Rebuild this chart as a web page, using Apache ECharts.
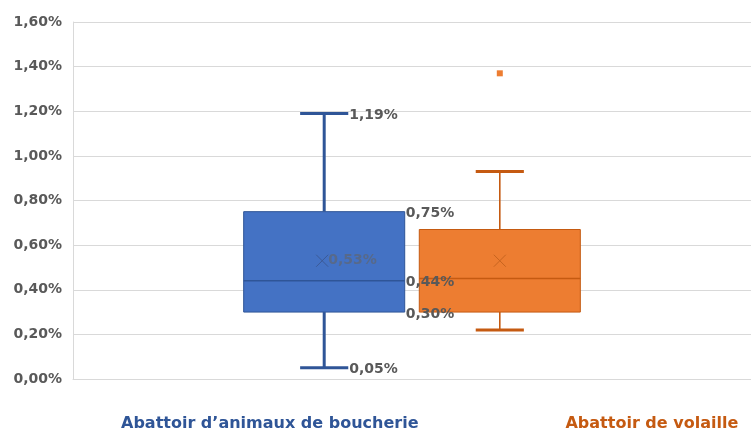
<!DOCTYPE html>
<html>
<head>
<meta charset="utf-8">
<script src="https://cdn.jsdelivr.net/npm/echarts@6/dist/echarts.min.js"></script>
<style>html,body{margin:0;padding:0;background:#fff;}#c{width:751px;height:434px;}</style>
</head>
<body>
<div id="c"></div>
<script>
// ---- data (values in %) ----
const categories = [''];
const seriesNames = ["Abattoir d’animaux de boucherie", "Abattoir de volaille"];
const whiskerLow  = [0.05, 0.22];
const q1          = [0.30, 0.30];
const median      = [0.44, 0.45];
const q3          = [0.75, 0.67];
const whiskerHigh = [1.19, 0.93];
const means       = [0.53, 0.53];
const outliers    = [[], [1.37]];
const yMin = 0, yMax = 1.6, yStep = 0.2;

const fmt = v => v.toFixed(2).replace('.', ',') + '%';

const colors = [
  {fill: '#4472c4', dark: '#2f5597', whisker: 3, cap: 3, mean: '#3b5a97', text: '#2f5597'},
  {fill: '#ed7d31', dark: '#c55a11', whisker: 1.6, cap: 3, mean: '#c7641f', text: '#c55a11'}
];
const sides = [-1, 1];
const showLabels = [true, false];
const FONT = 'DejaVu Sans';

function boxRender(i) {
  const c = colors[i];
  return function (params, api) {
    const band = api.size([1, 0])[0];
    const cx = api.coord([api.value(0), 0])[0] + sides[i] * band * 0.1295;
    const Y = v => api.coord([0, v])[1];
    const low = api.value(1), a = api.value(2), m = api.value(3), b = api.value(4), high = api.value(5), mean = api.value(6);
    const bw = band * 0.2375, cw = band * 0.071;
    const ch = [];
    const line = (x1, y1, x2, y2, w, col) => ({type: 'line', shape: {x1, y1, x2, y2}, style: {stroke: col, lineWidth: w}});
    ch.push(line(cx, Y(b), cx, Y(high), c.whisker, c.dark));
    ch.push(line(cx, Y(a), cx, Y(low), c.whisker, c.dark));
    ch.push(line(cx - cw / 2, Y(high), cx + cw / 2, Y(high), c.cap, c.dark));
    ch.push(line(cx - cw / 2, Y(low), cx + cw / 2, Y(low), c.cap, c.dark));
    ch.push({type: 'rect', shape: {x: cx - bw / 2, y: Y(b), width: bw, height: Y(a) - Y(b)},
             style: {fill: c.fill, stroke: c.dark, lineWidth: 1}});
    ch.push(line(cx - bw / 2, Y(m), cx + bw / 2, Y(m), 1.5, c.dark));
    const mx = i === 0 ? cx - 2 : cx, my = Y(mean), s = 6;
    ch.push(line(mx - s, my - s, mx + s, my + s, 1, c.mean));
    ch.push(line(mx - s, my + s, mx + s, my - s, 1, c.mean));
    if (showLabels[i]) {
      const lab = (x, y, v, col) => ({type: 'text', x, y: y + 2,
        style: {text: fmt(v), fill: col, font: 'bold 14px "' + FONT + '"', verticalAlign: 'middle', align: 'left'}});
      ch.push(lab(cx + cw / 2 + 1, Y(high), high, '#595959'));
      ch.push(lab(cx + cw / 2 + 1, Y(low), low, '#595959'));
      ch.push(lab(cx + bw / 2 + 1, Y(b), b, '#595959'));
      ch.push(lab(cx + bw / 2 + 1, Y(m), m, '#595959'));
      ch.push(lab(cx + bw / 2 + 1, Y(a), a, '#595959'));
      ch.push(lab(mx + s, my - 2, mean, 'rgba(100,100,100,0.6)'));
    }
    return {type: 'group', children: ch};
  };
}

function outlierRender(i) {
  const c = colors[i];
  return function (params, api) {
    const band = api.size([1, 0])[0];
    const p = api.coord([api.value(0), api.value(1)]);
    const cx = p[0] + sides[i] * band * 0.1295;
    return {type: 'rect', shape: {x: cx - 3, y: p[1] - 3, width: 6, height: 6}, style: {fill: c.fill}};
  };
}

const series = [];
seriesNames.forEach((name, i) => {
  series.push({
    type: 'custom', name, z: 3 - i,
    renderItem: boxRender(i),
    data: [[0, whiskerLow[i], q1[i], median[i], q3[i], whiskerHigh[i], means[i]]],
    encode: {x: 0, y: [1, 2, 3, 4, 5]},
    animation: false, silent: true
  });
  series.push({
    type: 'custom', name, z: 3 - i,
    renderItem: outlierRender(i),
    data: outliers[i].map(v => [0, v]),
    encode: {x: 0, y: 1},
    animation: false, silent: true
  });
});

const chart = echarts.init(document.getElementById('c'), null, {renderer: 'canvas'});
chart.setOption({
  animation: false,
  grid: {left: 73, right: 0, top: 22, bottom: 55, containLabel: false},
  xAxis: {type: 'category', data: categories, axisLine: {show: true, lineStyle: {color: '#d9d9d9', width: 1}},
          axisTick: {show: false}, axisLabel: {show: false}, splitLine: {show: false}},
  yAxis: {type: 'value', min: yMin, max: yMax, interval: yStep,
          axisLine: {show: true, lineStyle: {color: '#d9d9d9'}}, axisTick: {show: false},
          splitLine: {show: true, lineStyle: {color: '#d9d9d9', width: 1}},
          axisLabel: {margin: 11, color: '#595959', fontFamily: FONT, fontWeight: 'bold', fontSize: 14,
                      padding: [5, 0, 0, 0], formatter: v => fmt(v)}},
  legend: {
    bottom: -3, left: 111, width: 700, itemWidth: 0, itemHeight: 0, itemGap: 142, selectedMode: false,
    icon: 'rect',
    data: seriesNames.map((n, i) => ({name: n, textStyle: {color: colors[i].text, fontFamily: FONT, fontWeight: 'bold', fontSize: 16}}))
  },
  series
});
</script>
</body>
</html>
